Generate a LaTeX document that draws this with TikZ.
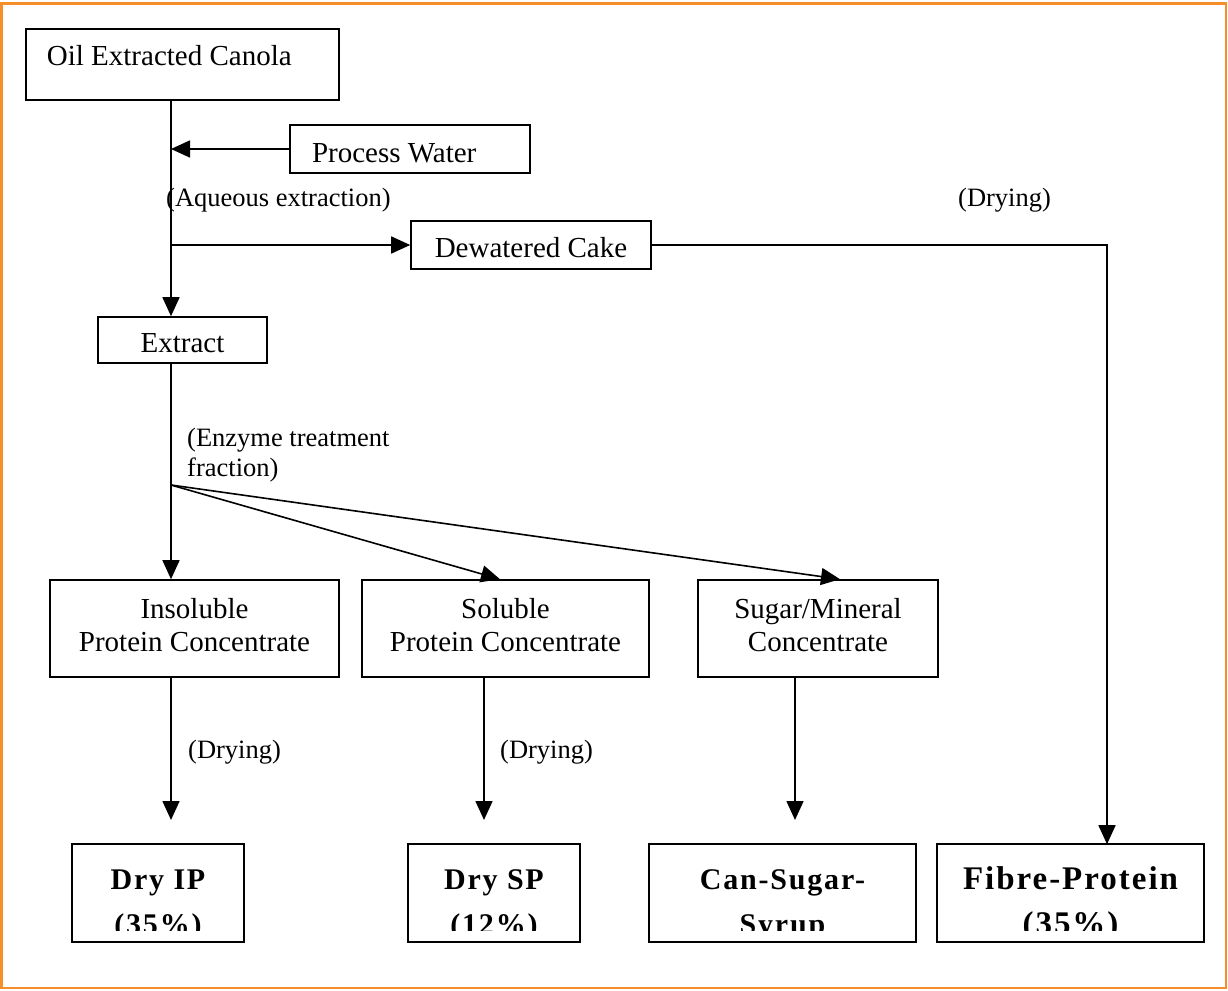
\documentclass[tikz,border=0pt]{standalone}
\usepackage{fontspec}
\setmainfont{Liberation Serif}
\newfontfamily\spacedserif[LetterSpace=6]{Liberation Serif}
\usetikzlibrary{arrows.meta}
\definecolor{frameorange}{RGB}{246,142,42}
\begin{document}
\begin{tikzpicture}[x=1pt,y=-1pt,
 box/.style={draw, line width=1.6pt, inner sep=0pt, align=flush center, font=\fontsize{29}{33}\selectfont},
 onebox/.style={box, text height=24pt, text depth=0pt},
 twobox/.style={box, text height=53pt, text depth=8pt, minimum height=97pt},
 resbox/.style={box, draw=none, minimum height=96pt, text height=82pt, text depth=0pt, font=\spacedserif\bfseries\fontsize{30}{45}\selectfont},
 resframe/.style={line width=1.6pt},
 lbl/.style={anchor=base west, inner sep=0pt, align=flush left, font=\fontsize{26.5}{30}\selectfont},
 conn/.style={line width=1.6pt},
 arr/.style={conn, -{Triangle[length=19pt,width=17pt]}}]
\useasboundingbox (0,0) rectangle (1228,990);
\draw[line width=2.5pt, frameorange] (1.5,3.5) rectangle (1226,988);

% boxes
\node[box, text width=271pt, align=flush left, minimum width=313pt, minimum height=71pt, text height=20pt, text depth=17pt] (oil) at (182.4,64.5) {Oil Extracted Canola};
\node[onebox, text width=196pt, align=flush left, minimum width=240pt, minimum height=48pt, text height=26pt] (pw) at (410,149) {Process Water};
\node[onebox, minimum width=240pt, minimum height=48pt] (dew) at (531,245) {Dewatered Cake};
\node[onebox, minimum width=169pt, minimum height=46pt] (ext) at (182.5,340) {Extract};
\node[twobox, minimum width=289pt] (ins) at (194.5,628.5) {Insoluble\\Protein Concentrate};
\node[twobox, minimum width=287pt] (sol) at (505.5,628.5) {Soluble\\Protein Concentrate};
\node[twobox, minimum width=240pt] (sug) at (818,628.5) {Sugar/Mineral\\Concentrate};

% labels
\node[lbl] (laq) at (166,206) {(Aqueous extraction)};
\node[lbl] (ldry) at (958,206) {(Drying)};
\node[lbl] (lenz) at (187,476) {(Enzyme treatment\\fraction)};
\node[lbl] (ld1) at (188,758) {(Drying)};
\node[lbl] (ld2) at (500,758) {(Drying)};

% result boxes (text clipped as in the original)
\begin{scope}
\clip (0,0) rectangle (1228,930);
\node[resbox, minimum width=170pt] (ip) at (158,893) {Dry IP\\(35\%)};
\node[resbox, minimum width=170pt] (sp) at (494,893) {Dry SP\\(12\%)};
\node[resbox, minimum width=265pt] (cs) at (782.5,893) {Can-Sugar-\\Syrup};
\node[resbox, minimum width=265pt, font=\spacedserif\bfseries\fontsize{33}{45}\selectfont] (fp) at (1070.5,893) {Fibre-Protein\\(35\%)};
\end{scope}
\foreach \n in {ip,sp,cs,fp} \draw[resframe] (\n.north west) rectangle (\n.south east);

% connector points
\coordinate (j1) at (171,149);
\coordinate (j2) at (171,245);
\coordinate (j3) at (171,485);
\coordinate (c1) at (1107,245);
\coordinate (t2) at (500,0);
\coordinate (t3) at (840,0);
\coordinate (e1) at (171,820);
\coordinate (e2) at (484,820);
\coordinate (e3) at (795,820);

\draw[arr] (oil.south -| j1) -- (ext.north -| j1);
\draw[arr] (pw.west) -- (j1);
\draw[arr] (j2) -- (dew.west);
\draw[arr] (dew.east) -- (c1) -- (c1 |- fp.north);
\draw[arr] (ext.south -| j3) -- (ins.north -| j3);
\draw[arr] (j3) -- (sol.north -| t2);
\draw[arr] (j3) -- (sug.north -| t3);
\draw[arr] (ins.south -| e1) -- (e1);
\draw[arr] (sol.south -| e2) -- (e2);
\draw[arr] (sug.south -| e3) -- (e3);
\end{tikzpicture}
\end{document}
